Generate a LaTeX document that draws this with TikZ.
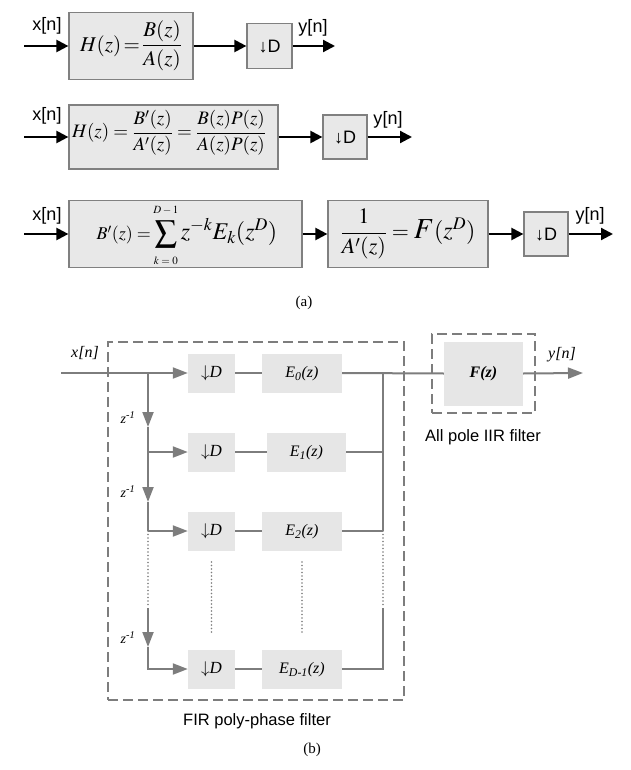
\documentclass[tikz,border=0pt]{standalone}
\usepackage{mathptmx}
\usepackage[no-math]{fontspec}
\setmainfont{Liberation Serif}
\setsansfont{Liberation Sans}
\usetikzlibrary{arrows.meta}
\definecolor{bgray}{RGB}{125,125,125}
\definecolor{bfill}{RGB}{230,230,230}
\definecolor{afill}{RGB}{232,232,232}
\definecolor{aline}{RGB}{128,128,128}
\newcommand{\fs}[1]{\fontsize{#1}{#1}\selectfont}
\tikzset{
  abox/.style={draw=aline, fill=afill, line width=1.2pt, inner sep=0pt},
  aarr/.style={line width=2.2pt, -{Triangle[length=12pt,width=12pt]}},
  atxt/.style={font=\sffamily\fs{18}, inner sep=0pt},
  ftxt/.style={inner sep=0pt},
  bline/.style={draw=bgray, line width=2pt},
  barr/.style={bline, -{Triangle[length=15pt,width=11pt]}, color=bgray},
  bbox/.style={fill=bfill, inner sep=0pt, minimum height=39pt},
  bdash/.style={draw=bgray, line width=2.5pt, dash pattern=on 10pt off 5pt, inner sep=0pt},
  bdot/.style={draw=bgray, line width=1.8pt, dash pattern=on 0pt off 3.5pt, line cap=round},
  btxt/.style={font=\itshape\fs{16}, inner sep=0pt, text=black},
  ztxt/.style={font=\itshape\fs{14}, inner sep=0pt},
  stxt/.style={font=\sffamily\fs{16.5}, inner sep=0pt},
}
\begin{document}
\begin{tikzpicture}[x=1pt,y=-1pt]
\useasboundingbox (0,0) rectangle (630,770);
% ---------- (a) row 1
\node[abox, minimum width=124pt, minimum height=67pt] (H1) at (131,46) {};
\node[ftxt, font=\fs{21}] (H1f) at (131,46) {$\displaystyle H(z)\!=\!\frac{B(z)}{A(z)}$};
\node[abox, minimum width=45pt, minimum height=45pt] (D1) at (269.5,46) {};
\node[atxt] (D1t) at (269.5,47) {↓D};
\coordinate (in1) at (24,46);
\coordinate (out1) at (335,46);
\draw[aarr] (in1) -- (H1.west);
\draw[aarr] (H1.east) -- (D1.west);
\draw[aarr] (D1.east) -- (out1);
\node[atxt] (x1) at (47,26) {x[n]};
\node[atxt] (y1) at (313,28) {y[n]};
% ---------- (a) row 2
\node[abox, minimum width=209pt, minimum height=64pt] (H2) at (173.5,137) {};
\node[ftxt, font=\fs{19}] (H2f) at (169,133) {$\displaystyle H(z)=\frac{B'(z)}{A'(z)}=\frac{B(z)P(z)}{A(z)P(z)}$};
\node[abox, minimum width=44pt, minimum height=44pt] (D2) at (345,137) {};
\node[atxt] (D2t) at (345,138) {↓D};
\coordinate (in2) at (24,137);
\coordinate (out2) at (412,137);
\draw[aarr] (in2) -- (H2.west);
\draw[aarr] (H2.east) -- (D2.west);
\draw[aarr] (D2.east) -- (out2);
\node[atxt] (x2) at (47,116) {x[n]};
\node[atxt] (y2) at (388,120) {y[n]};
% ---------- (a) row 3
\node[abox, minimum width=233pt, minimum height=67pt] (E3) at (185.5,234) {};
\node[ftxt, font=\fs{22}] (E3f) at (187,235) {$\displaystyle \mbox{\fs{18}$B'(z)=$}\sum_{\raisebox{-3pt}{\fs{11}$k=0$}}^{\raisebox{3pt}{\fs{11}$D-1$}}\mbox{\fs{24}$z^{-k}E_k(z^D)$}$};
\node[abox, minimum width=160pt, minimum height=67pt] (F3) at (408,234) {};
\node[ftxt, font=\fs{22}] (F3f) at (408,234) {$\displaystyle \frac{1}{A'(z)}=\mbox{\fs{29}$F$}\mbox{\fs{24}$(z^D)$}$};
\node[abox, minimum width=44pt, minimum height=44pt] (D3) at (546,234) {};
\node[atxt] (D3t) at (546,235) {↓D};
\coordinate (in3) at (24,234);
\coordinate (out3) at (613,234);
\draw[aarr] (in3) -- (E3.west);
\draw[aarr] (E3.east) -- (F3.west);
\draw[aarr] (F3.east) -- (D3.west);
\draw[aarr] (D3.east) -- (out3);
\node[atxt] (x3) at (47,216) {x[n]};
\node[atxt] (y3) at (590,216) {y[n]};
\node[ftxt, font=\fs{15}] (capa) at (304,303) {(a)};
% ---------- (b)
\node[bdash, minimum width=296pt, minimum height=358pt] (fir) at (256,521) {};
\node[bdash, minimum width=103pt, minimum height=79pt] (iir) at (483.5,373.5) {};
\node[bbox, minimum width=79pt, minimum height=64pt] (bF) at (483.5,373.5) {};
\node[btxt, font=\bfseries\itshape\fs{16}] (bFt) at (483.5,374) {F(z)};
\foreach \n/\y in {0/373,1/452,2/531,3/669}{
  \node[bbox, minimum width=47pt] (bD\n) at (211.5,\y) {};
  \node[font=\fs{17}, inner sep=0pt] (bDt\n) at (211.5,\y) {$\downarrow$\textit{D}};
}
\node[bbox, minimum width=80pt] (bE0) at (302,373) {};
\node[bbox, minimum width=79pt] (bE1) at (306.5,452) {};
\node[bbox, minimum width=80pt] (bE2) at (302,531) {};
\node[bbox, minimum width=80pt] (bE3) at (302,669) {};
\node[btxt] (bEt0) at (302,374) {E\textsubscript{0}(z)};
\node[btxt] (bEt1) at (306.5,453) {E\textsubscript{1}(z)};
\node[btxt] (bEt2) at (302,532) {E\textsubscript{2}(z)};
\node[btxt] (bEt3) at (302,670) {E\textsubscript{D-1}(z)};
% coordinates
\coordinate (xin) at (61,373);
\coordinate (br0) at (148,373);
\coordinate (z1) at (148,427);
\coordinate (br1) at (148,452);
\coordinate (z2) at (148,502);
\coordinate (br2) at (148,531);
\coordinate (br2d) at (148,608);
\coordinate (z3) at (148,647);
\coordinate (br3) at (148,669);
\coordinate (co0) at (383,373);
\coordinate (co1) at (383,452);
\coordinate (co2) at (383,531);
\coordinate (co2d) at (383,608);
\coordinate (co3) at (383,669);
\coordinate (yout) at (583,373);
\coordinate (dA1) at (211.5,562);
\coordinate (dA2) at (211.5,633);
\coordinate (dB1) at (302,562);
\coordinate (dB2) at (302,633);
% connectors
\draw[barr] (xin) -- (bD0.west);
\draw[bline] (bD0.east) -- (bE0.west);
\draw[bline] (bE0.east) -- (bF.west);
\draw[barr] (bF.east) -- (yout);
\draw[barr] (br0) -- (z1);
\draw[bline] (z1) -- (br1);
\draw[barr] (br1) -- (bD1.west);
\draw[barr] (br1) -- (z2);
\draw[bline] (z2) -- (br2);
\draw[barr] (br2) -- (bD2.west);
\draw[bdot] (br2) -- (br2d);
\draw[barr] (br2d) -- (z3);
\draw[barr] (z3) -- (br3) -- (bD3.west);
\draw[bline] (bD1.east) -- (bE1.west);
\draw[bline] (bD2.east) -- (bE2.west);
\draw[bline] (bD3.east) -- (bE3.west);
\draw[bline] (bE1.east) -- (co1);
\draw[bline] (bE2.east) -- (co2);
\draw[bline] (co0) -- (co2);
\draw[bdot] (co2) -- (co2d);
\draw[bline] (bE3.east) -- (co3) -- (co2d);
\draw[bdot] (dA1) -- (dA2);
\draw[bdot] (dB1) -- (dB2);
% labels
\node[btxt] (bx) at (85,353) {x[n]};
\node[btxt] (by) at (562,355) {y[n]};
\node[ztxt] (zl1) at (128,418) {z\textsuperscript{-1}};
\node[ztxt] (zl2) at (128,492) {z\textsuperscript{-1}};
\node[ztxt] (zl3) at (128,638) {z\textsuperscript{-1}};
\node[stxt] (iirl) at (483,437) {All pole IIR filter};
\node[stxt] (firl) at (257,721) {FIR poly-phase filter};
\node[ftxt, font=\fs{15}] (capb) at (312,750) {(b)};
\end{tikzpicture}
\end{document}
